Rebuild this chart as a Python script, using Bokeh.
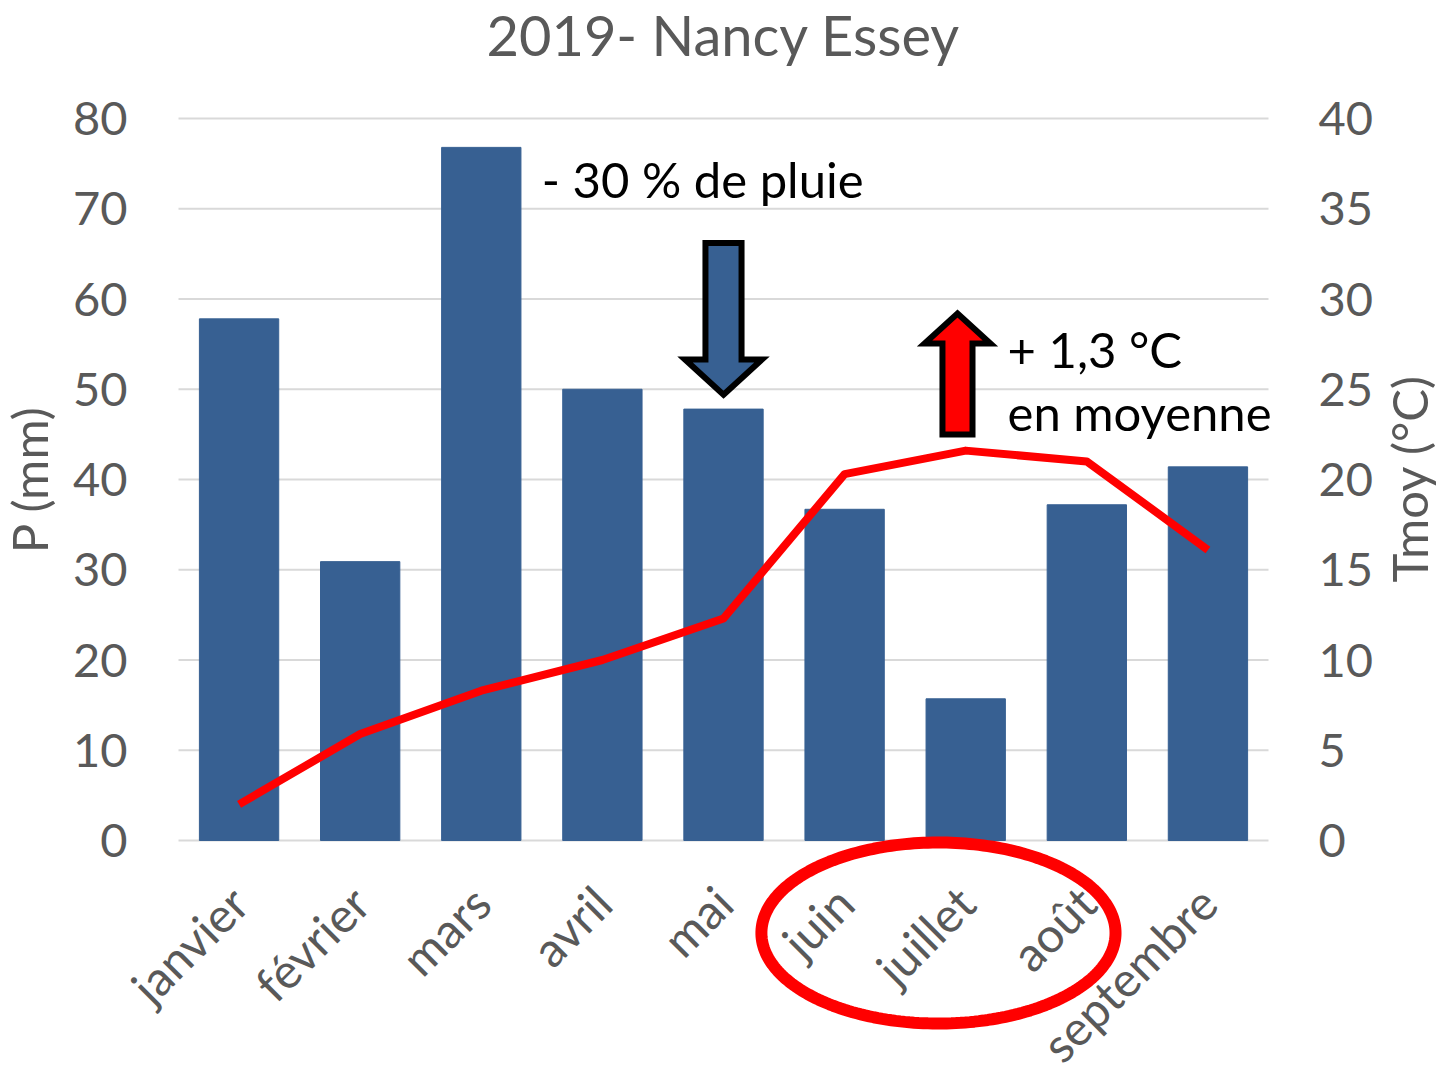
import math
import numpy as np
from bokeh.plotting import figure
from bokeh.models import (FactorRange, Range1d, LinearAxis, CategoricalAxis,
                          FixedTicker, Label, PolyAnnotation)
from bokeh.embed import file_html
from bokeh.resources import INLINE

# ---- data ----
months = ["janvier", "février", "mars", "avril", "mai", "juin", "juillet", "août", "septembre"]
precip_mm = [57.8, 30.9, 76.8, 50.0, 47.8, 36.7, 15.7, 37.2, 41.4]
tmoy_c = [2.0, 5.9, 8.3, 10.0, 12.3, 20.3, 21.6, 21.0, 16.1]
p_ticks = [0, 10, 20, 30, 40, 50, 60, 70, 80]
t_ticks = [0, 5, 10, 15, 20, 25, 30, 35, 40]
title_text = "2019- Nancy Essey"
rain_note = "- 30 % de pluie"
temp_note_1 = "+ 1,3 °C"
temp_note_2 = "en moyenne"

FONT = "Lato"
GREY = "#595959"
BAR = "#376092"

# The plotting frame covers the whole canvas; the axes are pinned at the edges
# of the data area so that the annotations (ellipse, notes) are never clipped.
W, H = 1446, 1071
PX_PER_CAT = 121.11
PX_PER_MM = 9.025
x_pad = 178 / PX_PER_CAT
p_top = 80 + 118 / PX_PER_MM
p_low = -(H - 840) / PX_PER_MM

p = figure(x_range=FactorRange(*months, range_padding=x_pad,
                               range_padding_units="absolute"),
           y_range=Range1d(p_low, p_top),
           width=W, height=H, output_backend="svg", toolbar_location=None,
           x_axis_location=None, y_axis_location=None,
           min_border=0)
p.extra_y_ranges = {"temp": Range1d(p_low / 2, p_top / 2)}

p.outline_line_color = None
p.xgrid.visible = False
p.ygrid.visible = False

left = LinearAxis(ticker=FixedTicker(ticks=p_ticks), fixed_location=0,
                  bounds=(0, 80), axis_label="P (mm)")
right = LinearAxis(y_range_name="temp", ticker=FixedTicker(ticks=t_ticks),
                   fixed_location=len(months), bounds=(-11.4, 40),
                   axis_label="Tmoy (°C)")
bottom = CategoricalAxis(fixed_location=0)
p.add_layout(left, "left")
p.add_layout(right, "right")
p.add_layout(bottom, "below")

# horizontal grid lines across the category span
p.segment(x0=[0] * len(p_ticks), x1=[len(months)] * len(p_ticks),
          y0=p_ticks, y1=p_ticks, line_color="#D9D9D9", line_width=2)

for ax in [left, right]:
    ax.axis_line_color = None
    ax.major_tick_line_color = None
    ax.minor_tick_line_color = None
    ax.major_label_text_font = FONT
    ax.major_label_text_font_size = "47px"
    ax.major_label_text_color = GREY
    ax.axis_label_text_font = FONT
    ax.axis_label_text_font_size = "49px"
    ax.axis_label_text_font_style = "normal"
    ax.axis_label_text_color = GREY
left.major_label_standoff = 45
right.major_label_standoff = 44
left.axis_label_standoff = 12
right.axis_label_standoff = 33
right.axis_label_orientation = math.pi / 2

bottom.axis_line_color = None
bottom.major_tick_line_color = None
bottom.minor_tick_line_color = None
bottom.major_label_orientation = math.pi / 4
bottom.major_label_text_font = FONT
bottom.major_label_text_font_size = "48px"
bottom.major_label_text_color = GREY
bottom.major_label_standoff = 48

p.vbar(x=months, top=precip_mm, width=0.655, color=BAR)
p.line(x=months, y=tmoy_c, y_range_name="temp", line_color="#FF0000",
       line_width=8, line_join="round")

# ---- title ----
p.add_layout(Label(x=len(months) / 2, y=80 + (840 - 34 - 722) / PX_PER_MM,
                   text=title_text, text_font=FONT, text_font_size="56px",
                   text_color=GREY, text_align="center",
                   text_baseline="alphabetic"))

# ---- block arrows (annotation shapes) ----
def block_arrow(cx, y_tip, y_head, y_tail, half_shaft, half_head):
    xs = [cx, cx + half_head, cx + half_shaft, cx + half_shaft,
          cx - half_shaft, cx - half_shaft, cx - half_head]
    ys = [y_tip, y_head, y_head, y_tail, y_tail, y_head, y_head]
    return xs, ys

bx, by = block_arrow(4.5, 49.4, 53.3, 66.2, 0.149, 0.318)
p.add_layout(PolyAnnotation(xs=bx, ys=by, fill_color=BAR, fill_alpha=1,
                            line_color="black", line_alpha=1, line_width=6,
                            line_join="miter"))
rx, ry = block_arrow(6.432, 58.4, 55.07, 45.0, 0.124, 0.272)
p.add_layout(PolyAnnotation(xs=rx, ys=ry, fill_color="#FF0000", fill_alpha=1,
                            line_color="black", line_alpha=1, line_width=6,
                            line_join="miter"))

# ---- ellipse around summer months ----
t = np.linspace(0, 2 * np.pi, 240)
ex = list(6.275 + 1.462 * np.cos(t))
ey = list(-10.25 + 10.03 * np.sin(t))
p.add_layout(PolyAnnotation(xs=ex, ys=ey, fill_alpha=0, line_color="#FF0000",
                            line_alpha=1, line_width=12))

# ---- notes ----
for txt, x, y in [(rain_note, 3.0, 73.35), (temp_note_1, 6.845, 54.51),
                  (temp_note_2, 6.845, 47.53)]:
    p.add_layout(Label(x=x, y=y, text=txt, text_font=FONT, text_font_size="49px",
                       text_color="black", text_baseline="alphabetic",
                       text_align="left"))

open("out.html", "w").write(file_html(p, INLINE))
